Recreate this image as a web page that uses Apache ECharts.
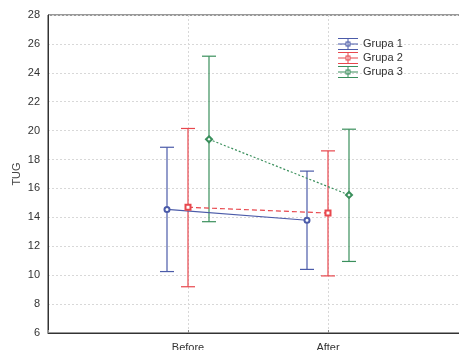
<!DOCTYPE html>
<html>
<head>
<meta charset="utf-8">
<script src="https://cdn.jsdelivr.net/npm/echarts@6/dist/echarts.min.js"></script>
<style>
html,body{margin:0;padding:0;background:#fff;}
#chart{width:459px;height:350px;}
</style>
</head>
<body>
<div id="chart"></div>
<script>
var categories = ['Before', 'After'];
var groupNames = ['Grupa 1', 'Grupa 2', 'Grupa 3'];
var g1Mean  = [14.55, 13.80];
var g1Upper = [18.85, 17.20];
var g1Lower = [10.25, 10.40];
var g2Mean  = [14.70, 14.30];
var g2Upper = [20.15, 18.60];
var g2Lower = [9.20, 9.95];
var g3Mean  = [19.40, 15.55];
var g3Upper = [25.15, 20.10];
var g3Lower = [13.70, 10.95];
var yTicks = [6, 8, 10, 12, 14, 16, 18, 20, 22, 24, 26, 28];

var colors = ['#4b5ba9', '#e8474d', '#3a8f5c'];
var lineTypes = ['solid', [5, 3], [2, 2]];
var symbols = ['emptyCircle', 'emptyRect', 'emptyDiamond'];
var offsets = [-0.15, 0, 0.15];
var means = [g1Mean, g2Mean, g3Mean];
var uppers = [g1Upper, g2Upper, g3Upper];
var lowers = [g1Lower, g2Lower, g3Lower];

var legendIcon = 'path://M0,0H20V1H0Z M0,11H20V12H0Z M9.5,0H10.5V12H9.5Z M0,5.5H7.5V6.5H0Z M12.5,5.5H20V6.5H12.5Z M7.5,3.5H12.5V4.5H7.5Z M7.5,7.5H12.5V8.5H7.5Z M7.5,3.5H8.5V8.5H7.5Z M11.5,3.5H12.5V8.5H11.5Z';

var font = "'Liberation Sans', Arial, sans-serif";
var series = [];
groupNames.forEach(function (name, g) {
  var lineData = categories.map(function (c, i) { return [i + 1 + offsets[g], means[g][i]]; });
  var errData = categories.map(function (c, i) { return [i + 1 + offsets[g], lowers[g][i], uppers[g][i]]; });
  series.push({
    type: 'custom',
    name: name,
    data: errData,
    z: 2,
    silent: true,
    encode: { x: 0, y: [1, 2] },
    renderItem: function (params, api) {
      var x = api.value(0);
      var lo = api.coord([x, api.value(1)]);
      var hi = api.coord([x, api.value(2)]);
      var hw = 7;
      var st = { stroke: colors[g], lineWidth: 1.2 };
      return {
        type: 'group',
        children: [
          { type: 'line', shape: { x1: lo[0], y1: lo[1], x2: hi[0], y2: hi[1] }, style: st },
          { type: 'line', shape: { x1: hi[0] - hw, y1: hi[1], x2: hi[0] + hw, y2: hi[1] }, style: st },
          { type: 'line', shape: { x1: lo[0] - hw, y1: lo[1], x2: lo[0] + hw, y2: lo[1] }, style: st }
        ]
      };
    }
  });
  series.push({
    type: 'line',
    name: name,
    data: lineData,
    z: 3,
    symbol: symbols[g],
    symbolSize: g === 2 ? 6 : 5,
    showAllSymbol: true,
    itemStyle: { color: colors[g], borderWidth: 1 },
    lineStyle: { color: colors[g], width: 1.2, type: lineTypes[g] },
    animation: false
  });
});

var chart = echarts.init(document.getElementById('chart'), null, { renderer: 'canvas' });
chart.setOption({
  backgroundColor: '#fff',
  animation: false,
  color: colors,
  grid: { left: 48, top: 15, width: 420, height: 318, show: true, borderColor: '#333', borderWidth: 1, backgroundColor: 'transparent', outerBoundsMode: 'none', containLabel: false },
  legend: {
    left: 333, top: 33, orient: 'vertical',
    itemWidth: 20, itemHeight: 12, itemGap: 2,
    selectedMode: false,
    textStyle: { fontFamily: font, fontSize: 11, color: '#333', padding: [0, 0, 0, 0] },
    data: groupNames.map(function (n) { return { name: n, icon: legendIcon }; })
  },
  xAxis: {
    type: 'value', min: 0, max: 3, interval: 1,
    axisLine: { show: true, lineStyle: { color: '#333', width: 1 } },
    axisTick: { show: true, inside: true, length: 3, lineStyle: { color: '#888' } },
    splitLine: { show: true, lineStyle: { color: '#d8d8d8', type: [2, 2] } },
    axisLabel: {
      margin: 9, fontFamily: font, fontSize: 11, color: '#333',
      formatter: function (v) { return categories[v - 1] || ''; }
    }
  },
  yAxis: {
    type: 'value', min: yTicks[0], max: yTicks[yTicks.length - 1], interval: 2,
    name: 'TUG', nameLocation: 'middle', nameGap: 26, nameRotate: 90, nameMoveOverlap: false,
    nameTextStyle: { fontFamily: font, fontSize: 11, color: '#444' },
    axisLine: { show: true, lineStyle: { color: '#333', width: 1 } },
    axisTick: { show: false },
    splitLine: { show: true, lineStyle: { color: '#d8d8d8', type: [2, 2] } },
    axisLabel: { margin: 8, fontFamily: font, fontSize: 11, color: '#333' }
  },
  series: series
});
</script>
</body>
</html>
